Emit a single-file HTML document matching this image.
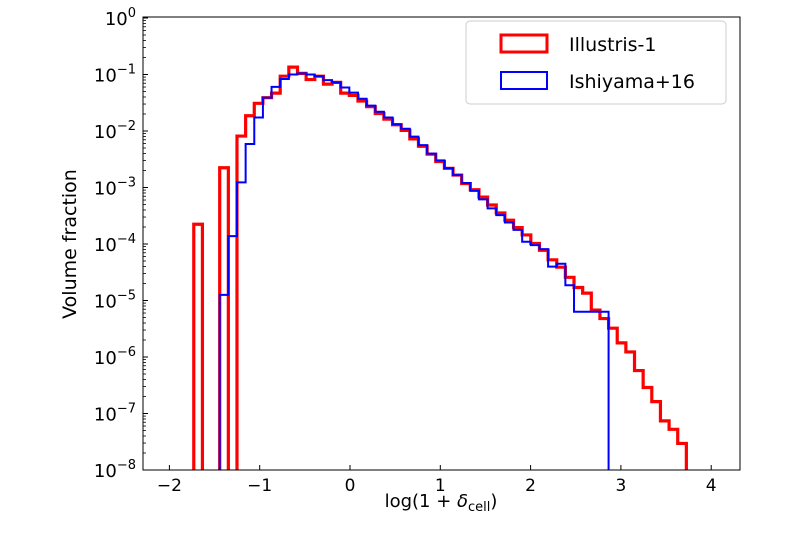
<!DOCTYPE html>
<html><head><meta charset="utf-8"><style>
body{margin:0;background:#fff;}
svg{display:block;font-family:"DejaVu Sans","Liberation Sans",sans-serif;}
</style></head><body>
<svg id="chart" width="800" height="533" viewBox="0 0 800 533" xmlns="http://www.w3.org/2000/svg">
<defs><clipPath id="clip"><rect x="143" y="17" width="597" height="453"/></clipPath></defs>
<g id="plot" clip-path="url(#clip)"></g>
<rect x="143" y="17" width="597" height="453" fill="none" stroke="#000" stroke-width="1"/>
<g id="axes"></g>
<text x="441" y="507" font-size="18" text-anchor="middle">log(1 + <tspan font-style="italic">δ</tspan><tspan font-size="13" dy="4">cell</tspan><tspan dy="-4">)</tspan></text>
<text transform="translate(76,244) rotate(-90)" font-size="19" text-anchor="middle">Volume fraction</text>
<g>
<rect x="466" y="21" width="260" height="83" rx="4" fill="#fff" stroke="#ccc" stroke-width="1"/>
<rect x="501" y="35" width="46" height="17" fill="none" stroke="#f00" stroke-width="3"/>
<text x="569" y="51" font-size="19">Illustris-1</text>
<rect x="501" y="72" width="46" height="17" fill="none" stroke="#00f" stroke-width="2"/>
<text x="569" y="88" font-size="19">Ishiyama+16</text>
</g>
</svg>
<script>
const binStart = -1.73;
const binWidth = 0.0957;
const redStartBin = 0;
const redLogValues = [-3.65,null,null,-2.65,null,-2.09,-1.73,-1.51,-1.41,-1.33,-1.03,-0.87,-0.98,-1.09,-1.03,-1.17,-1.14,-1.33,-1.37,-1.47,-1.57,-1.69,-1.79,-1.89,-1.99,-2.14,-2.27,-2.41,-2.54,-2.66,-2.78,-2.93,-3.04,-3.17,-3.31,-3.45,-3.58,-3.71,-3.84,-3.99,-4.11,-4.28,-4.41,-4.59,-4.77,-4.87,-5.17,-5.32,-5.49,-5.75,-5.91,-6.24,-6.54,-6.79,-7.13,-7.28,-7.53];
const blueStartBin = 3;
const blueLogValues = [-4.9,-3.86,-2.91,-2.23,-1.76,-1.41,-1.22,-1.08,-1.0,-0.98,-1.0,-1.03,-1.10,-1.14,-1.23,-1.32,-1.43,-1.55,-1.66,-1.76,-1.88,-1.96,-2.10,-2.25,-2.40,-2.52,-2.66,-2.78,-2.92,-3.06,-3.21,-3.37,-3.49,-3.62,-3.75,-3.96,-4.02,-4.09,-4.40,-4.35,-4.73,-5.20,-5.20,-5.20,-5.20];
const xTicks = [-2,-1,0,1,2,3,4];
const yTicks = [0,-1,-2,-3,-4,-5,-6,-7,-8];

const NS="http://www.w3.org/2000/svg";
const X=v=>350+90.3*v;
const Y=lg=>18+(-lg)*56.5;
const plot=document.getElementById('plot'), axes=document.getElementById('axes');
function mk(tag,attrs,parent){const e=document.createElementNS(NS,tag);for(const k in attrs)e.setAttribute(k,attrs[k]);parent.appendChild(e);return e;}

function stepPath(start,vals){
  const bottom=Y(-9);
  let d='M'+X(binStart+start*binWidth)+','+bottom;
  vals.forEach((v,i)=>{
    const x0=X(binStart+(start+i)*binWidth), x1=X(binStart+(start+i+1)*binWidth);
    const y=v===null?bottom:Y(v);
    d+=' L'+x0+','+y+' L'+x1+','+y;
  });
  d+=' L'+X(binStart+(start+vals.length)*binWidth)+','+bottom;
  return d;
}
const red=mk('path',{d:stepPath(redStartBin,redLogValues),fill:'none',stroke:'#f00','stroke-width':3.2,'stroke-linejoin':'miter'},plot);


const blue=mk('path',{d:stepPath(blueStartBin,blueLogValues),fill:'none',stroke:'#00f','stroke-width':2,'stroke-linejoin':'miter'},plot);



xTicks.forEach(t=>{
  const x=X(t);
  const tk=mk('line',{x1:x,x2:x,y1:470,y2:465,stroke:'#000','stroke-width':1},axes);
  
  
  const lb=mk('text',{x:x,y:491,'font-size':17,'text-anchor':'middle'},axes);
  lb.textContent=(t<0?'\u2212':'')+Math.abs(t);
  
  
});
yTicks.forEach(t=>{
  const y=Y(t);
  const tk=mk('line',{x1:143,x2:148,y1:y,y2:y,stroke:'#000','stroke-width':1},axes);
  
  
  if(t>-8){for(let m=2;m<=9;m++){const ym=Y(t-1+Math.log10(m));mk('line',{x1:143,x2:146,y1:ym,y2:ym,stroke:'#000','stroke-width':0.8},axes);}}
  const lb=mk('text',{x:136,y:y+7,'font-size':18,'text-anchor':'end'},axes);
  
  
  lb.textContent='10';
  const sp=document.createElementNS(NS,'tspan');
  sp.setAttribute('dy','-8');sp.setAttribute('font-size','13');
  sp.textContent=(t<0?'\u2212':'')+Math.abs(t);
  lb.appendChild(sp);
});
</script>
</body></html>
